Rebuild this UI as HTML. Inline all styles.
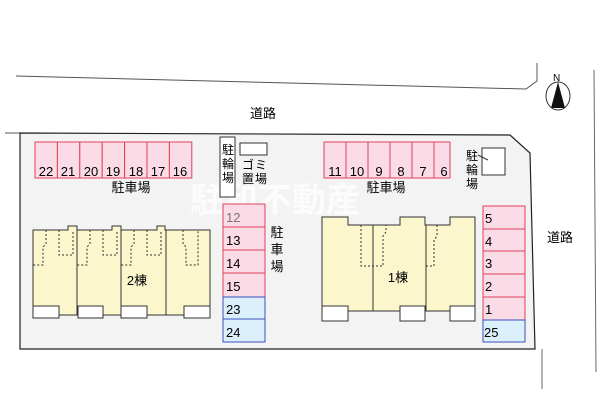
<!DOCTYPE html>
<html><head><meta charset="utf-8"><style>
body{margin:0;background:#fff;}
svg text{font-family:"Liberation Sans","Noto Sans CJK JP",sans-serif;}
</style></head><body>
<svg width="600" height="400" viewBox="0 0 600 400" xmlns="http://www.w3.org/2000/svg">
<polyline points="16,76 526,89 537,81 537,63" fill="none" stroke="#555" stroke-width="1"/>
<line x1="594" y1="70" x2="596" y2="372" stroke="#666"/>
<line x1="542" y1="349" x2="542" y2="389" stroke="#666"/>
<line x1="5" y1="133" x2="20" y2="133" stroke="#555"/>
<polygon points="20,133 510,135 530,153 535,349 20,349" fill="#f3f3f3" stroke="#222" stroke-width="1.2"/>
<!-- compass -->
<ellipse cx="558" cy="96" rx="12" ry="14" fill="#fff" stroke="#333"/>
<polygon points="558,82 551,108 565,108" fill="#111"/>
<text x="553" y="81" font-size="10">N</text>
<text x="263" y="118" font-size="13" text-anchor="middle">道路</text>
<text x="560" y="242" font-size="13" text-anchor="middle">道路</text>
<!-- watermark -->
<text x="190" y="212" font-size="34" fill="#fff" opacity="0.8" font-weight="bold">駐和不動産</text>
<!-- top-left parking -->
<g fill="#fbdbe5" stroke="#e0405a">
<rect x="35" y="142" width="22.4" height="36"/><rect x="57.4" y="142" width="22.4" height="36"/><rect x="79.8" y="142" width="22.4" height="36"/><rect x="102.2" y="142" width="22.4" height="36"/><rect x="124.6" y="142" width="22.4" height="36"/><rect x="147" y="142" width="22.4" height="36"/><rect x="169.4" y="142" width="22.4" height="36"/>
</g>
<g font-size="13" text-anchor="middle">
<text x="46" y="176">22</text><text x="68" y="176">21</text><text x="91" y="176">20</text><text x="113" y="176">19</text><text x="136" y="176">18</text><text x="158" y="176">17</text><text x="180" y="176">16</text>
</g>
<text x="131" y="192" font-size="13" text-anchor="middle">駐車場</text>
<!-- bicycle + garbage -->
<rect x="220" y="137" width="15" height="60" fill="#fff" stroke="#333"/>
<g font-size="12" text-anchor="middle"><text x="228" y="154">駐</text><text x="228" y="168">輪</text><text x="228" y="182">場</text></g>
<rect x="240" y="143" width="27" height="12" fill="#fff" stroke="#333"/>
<g font-size="12"><text x="242" y="169">ゴ</text><text x="255" y="169">ミ</text><text x="242" y="183">置</text><text x="255" y="183">場</text></g>
<!-- parking 12-24 -->
<g fill="#fbdbe5" stroke="#e0405a">
<rect x="223" y="204" width="42" height="23"/><rect x="223" y="227" width="42" height="23"/><rect x="223" y="250" width="42" height="23"/><rect x="223" y="273" width="42" height="24"/>
</g>
<g fill="#dcf0fb" stroke="#3a4fc0"><rect x="223" y="297" width="42" height="22"/><rect x="223" y="319" width="42" height="23"/></g>
<g font-size="13"><text x="226" y="222" fill="#777">12</text><text x="226" y="245">13</text><text x="226" y="268">14</text><text x="226" y="291">15</text><text x="226" y="314">23</text><text x="226" y="337">24</text></g>
<g font-size="13" text-anchor="middle"><text x="277" y="237">駐</text><text x="277" y="254">車</text><text x="277" y="271">場</text></g>
<!-- building 2 -->
<path d="M33,230 H68 V226 H77 V230 H112 V226 H121 V230 H157 V226 H165 V230 H210 V315 H33 Z" fill="#fbf6cc" stroke="#333"/>
<g stroke="#333"><line x1="77" y1="230" x2="77" y2="315"/><line x1="121" y1="230" x2="121" y2="315"/><line x1="166" y1="230" x2="166" y2="315"/></g>
<g fill="none" stroke="#333" stroke-dasharray="2,2">
<path d="M46,230 V244 L43,247 V265 H33"/><path d="M59,230 V255 H73 V230"/>
<path d="M90,230 V244 L87,247 V265 H77"/><path d="M103,230 V255 H117 V230"/>
<path d="M134,230 V244 L131,247 V265 H121"/><path d="M147,230 V255 H161 V230"/>
<path d="M183,230 V244 L186,247 V265 H198 V230"/>
</g>
<g fill="#fff" stroke="#333"><rect x="33" y="306" width="26" height="12"/><rect x="78" y="306" width="25" height="12"/><rect x="121" y="306" width="26" height="12"/><rect x="184" y="306" width="26" height="12"/></g>
<text x="137" y="285" font-size="13" text-anchor="middle">2棟</text>
<!-- top-right parking -->
<g fill="#fbdbe5" stroke="#e0405a">
<rect x="324" y="142" width="22" height="36"/><rect x="346" y="142" width="22" height="36"/><rect x="368" y="142" width="22" height="36"/><rect x="390" y="142" width="22" height="36"/><rect x="412" y="142" width="22" height="36"/><rect x="434" y="142" width="16" height="36"/>
</g>
<g font-size="13" text-anchor="middle"><text x="335" y="176">11</text><text x="357" y="176">10</text><text x="379" y="176">9</text><text x="401" y="176">8</text><text x="423" y="176">7</text><text x="444" y="176">6</text></g>
<text x="386" y="192" font-size="13" text-anchor="middle">駐車場</text>
<g font-size="12" text-anchor="middle"><text x="472" y="160">駐</text><text x="472" y="174">輪</text><text x="472" y="188">場</text></g>
<rect x="482" y="148" width="23" height="27" fill="#fff" stroke="#333"/>
<line x1="478" y1="155" x2="488" y2="160" stroke="#333"/>
<!-- building 1 -->
<path d="M322,217 H348 V225 H400 V217 H425 V225 H450 V217 H475 V311 H322 Z" fill="#fbf6cc" stroke="#333"/>
<g stroke="#333"><line x1="373" y1="225" x2="373" y2="311"/><line x1="426" y1="225" x2="426" y2="311"/></g>
<g fill="none" stroke="#333" stroke-dasharray="2,2">
<path d="M361,225 V266 H383 V236 L386,232 V225"/><path d="M437,225 V236 L434,240 V266 H426"/>
</g>
<g fill="#fff" stroke="#333"><rect x="322" y="306" width="26" height="15"/><rect x="400" y="306" width="25" height="15"/><rect x="450" y="306" width="25" height="15"/></g>
<text x="398" y="282" font-size="13" text-anchor="middle">1棟</text>
<!-- right parking -->
<g fill="#fbdbe5" stroke="#e0405a">
<rect x="483" y="206" width="42" height="23"/><rect x="483" y="229" width="42" height="22"/><rect x="483" y="251" width="42" height="23"/><rect x="483" y="274" width="42" height="23"/><rect x="483" y="297" width="42" height="23"/>
</g>
<rect x="483" y="320" width="42" height="22" fill="#dcf0fb" stroke="#3a4fc0"/>
<g font-size="13"><text x="485" y="223">5</text><text x="485" y="246">4</text><text x="485" y="268">3</text><text x="485" y="291">2</text><text x="485" y="314">1</text><text x="484" y="337">25</text></g>
</svg>
</body></html>
